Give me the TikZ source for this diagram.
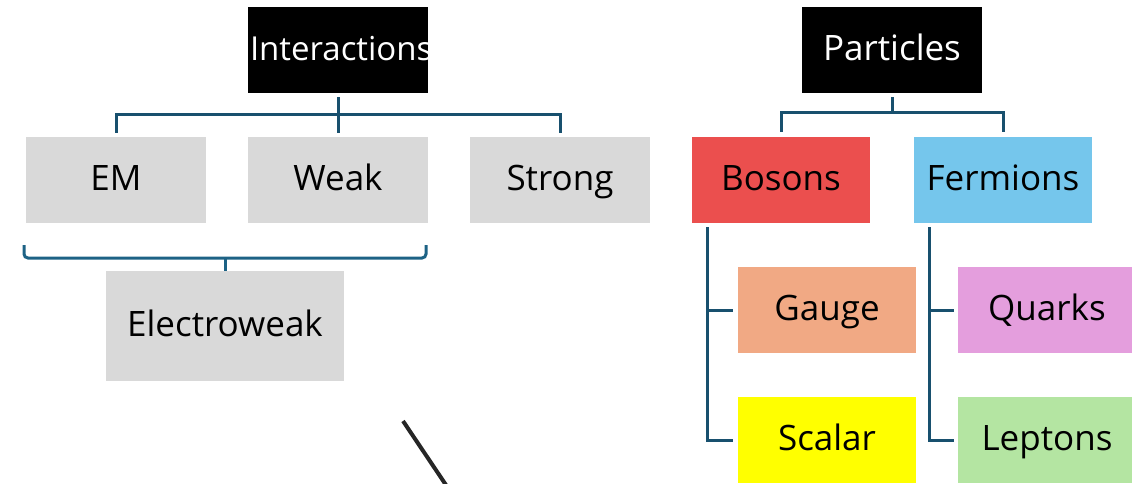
\documentclass[tikz,border=0pt]{standalone}
\usepackage{fontspec}
\setmainfont{Open Sans}
\usetikzlibrary{calc}
\definecolor{treeblue}{HTML}{18506E}
\definecolor{bracketblue}{HTML}{1D6285}
\definecolor{boxgray}{HTML}{D9D9D9}
\definecolor{bosonred}{HTML}{EB4F4E}
\definecolor{fermionblue}{HTML}{75C6EC}
\definecolor{gaugeorange}{HTML}{F1A984}
\definecolor{scalaryellow}{HTML}{FFFF00}
\definecolor{quarkpink}{HTML}{E49EDD}
\definecolor{leptongreen}{HTML}{B4E5A2}
\definecolor{slashgray}{HTML}{262626}
\tikzset{
  boxnode/.style={rectangle, inner sep=0pt, minimum width=180pt, minimum height=86pt,
    font=\fontsize{35}{40}\selectfont, text=black, text height=29pt, text depth=8pt},
  headnode/.style={boxnode, fill=black, text=white},
  graynode/.style={boxnode, fill=boxgray},
  treeline/.style={draw=treeblue, line width=3pt},
  bracketline/.style={draw=bracketblue, line width=3pt, rounded corners=4pt}
}
\begin{document}
\begin{tikzpicture}[x=1pt,y=-1pt]
\useasboundingbox (0,0) rectangle (1132,484);
% left tree
\node[headnode] (inter) at (338,50) {\makebox[178pt][l]{\hspace{1pt}\fontsize{33}{38}\selectfont Interactions}};
\node[graynode] (em) at (116,180) {EM};
\node[graynode] (weak) at (338,180) {Weak};
\node[graynode] (strong) at (560,180) {Strong};
\node[graynode, minimum width=238pt, minimum height=110pt] (ew) at (225,326) {Electroweak};
\draw[treeline] ([yshift=-4pt]inter.south) -- ([yshift=4pt]weak.north);
\draw[treeline] ([yshift=4pt]em.north) -- ++(0,-18) -| ([yshift=4pt]strong.north);
% bracket
\coordinate (bl) at (24,245);
\coordinate (br) at (426,245);
\draw[bracketline] (bl) -- ++(0,13) -- ($(br)+(0,13)$) -- (br);
\draw[draw=bracketblue, line width=3pt] (ew.north) -- ++(0,-14);
% right tree
\node[headnode] (part) at (892,50) {Particles};
\node[boxnode, fill=bosonred, minimum width=178pt] (bos) at (781,180) {Bosons};
\node[boxnode, fill=fermionblue, minimum width=178pt] (fer) at (1003,180) {Fermions};
\node[boxnode, fill=gaugeorange, minimum width=178pt] (gauge) at (827,310) {Gauge};
\node[boxnode, fill=scalaryellow, minimum width=178pt] (scalar) at (827,440) {Scalar};
\node[boxnode, fill=quarkpink, minimum width=178pt] (quark) at (1047,310) {Quarks};
\node[boxnode, fill=leptongreen, minimum width=178pt] (lepton) at (1047,440) {Leptons};
\draw[treeline] ([yshift=-4pt]part.south) -- ++(0,17);
\draw[treeline] ([yshift=5pt]bos.north) -- ++(0,-19) -| ([yshift=5pt]fer.north);
\coordinate (bv) at ([shift={(16pt,-4pt)}]bos.south west);
\draw[treeline] (bv) |- ([xshift=-5pt]scalar.west);
\draw[treeline] (bv |- gauge.west) -- ([xshift=-5pt]gauge.west);
\coordinate (fv) at ([shift={(16pt,-4pt)}]fer.south west);
\draw[treeline] (fv) |- ([xshift=-4pt]lepton.west);
\draw[treeline] (fv |- quark.west) -- ([xshift=-4pt]quark.west);
% slash
\coordinate (s1) at (403,421);
\coordinate (s2) at (448,488);
\draw[draw=slashgray, line width=4pt] (s1) -- (s2);
\end{tikzpicture}
\end{document}
